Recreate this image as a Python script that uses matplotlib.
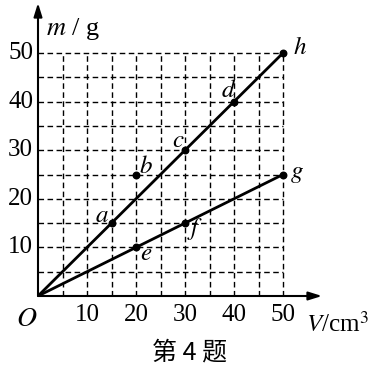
import matplotlib
matplotlib.use("Agg")
import matplotlib.pyplot as plt

plt.rcParams["mathtext.fontset"] = "stix"

# Data
grid_vals = [5, 10, 15, 20, 25, 30, 35, 40, 45, 50]
x_ticks = [10, 20, 30, 40, 50]
y_ticks = [10, 20, 30, 40, 50]
line1_x = [0, 50]
line1_y = [0, 50]
line2_x = [0, 50]
line2_y = [0, 25]
point_names = ["a", "b", "c", "d", "h", "e", "f", "g"]
point_x = [15, 20, 30, 40, 50, 20, 30, 50]
point_y = [15, 25, 30, 40, 50, 10, 15, 25]
label_offsets = {"a": (-7, 6), "b": (7, 6), "c": (-5, 7), "d": (-4, 8),
                 "h": (12, 4), "e": (7, -4), "f": (7, -4), "g": (10, 1)}

serif = ["Liberation Serif", "DejaVu Serif"]
fig = plt.figure(figsize=(3.76, 3.72), dpi=100)
ax = fig.add_axes([38/376, (372-296)/372, 284/376, 293/372])
ax.set_xlim(0, 284/4.9)
ax.set_ylim(0, 293/4.86)
ax.axis("off")

for v in grid_vals:
    ax.plot([v, v], [0, 50], color="black", lw=1.0, ls=(0, (4, 2.5)), zorder=1)
    ax.plot([0, 50], [v, v], color="black", lw=1.0, ls=(0, (4, 2.5)), zorder=1)

# axes with arrows
ax.annotate("", xy=(284/4.9, 0), xytext=(0, 0),
            arrowprops=dict(arrowstyle="-|>,head_length=0.8,head_width=0.25", color="black", lw=1.5, shrinkA=0, shrinkB=0))
ax.annotate("", xy=(0, 293/4.86), xytext=(0, 0),
            arrowprops=dict(arrowstyle="-|>,head_length=0.8,head_width=0.25", color="black", lw=1.5, shrinkA=0, shrinkB=0))

ax.plot(line1_x, line1_y, color="black", lw=2, zorder=3)
ax.plot(line2_x, line2_y, color="black", lw=2, zorder=3)
ax.scatter(point_x, point_y, s=22, color="black", zorder=4)

for n, x, y in zip(point_names, point_x, point_y):
    dx, dy = label_offsets[n]
    ax.annotate("$" + n + "$", (x, y), xytext=(dx, dy), textcoords="offset points",
                ha="center", va="center", fontsize=18)

for t in x_ticks:
    ax.text(t, -1.6, str(t), ha="center", va="top", fontsize=18, family=serif)
for t in y_ticks:
    ax.text(-1.0, t, str(t), ha="right", va="center", fontsize=18, family=serif)

ax.text(-2.4, -1.6, "$O$", ha="center", va="top", fontsize=20)
ax.text(1.6, 55.0, "$m$ / g", ha="left", va="center", fontsize=19, family=serif)
ax.text(54.6, -5.8, "$V$/cm$^3$", ha="left", va="center", fontsize=18, family=serif)
fig.text(190/376, 1 - 352/372, "第 4 题", ha="center", va="center", fontsize=18,
         family=["Noto Sans CJK SC", "DejaVu Sans"])

fig.savefig("out.png", dpi=100)
